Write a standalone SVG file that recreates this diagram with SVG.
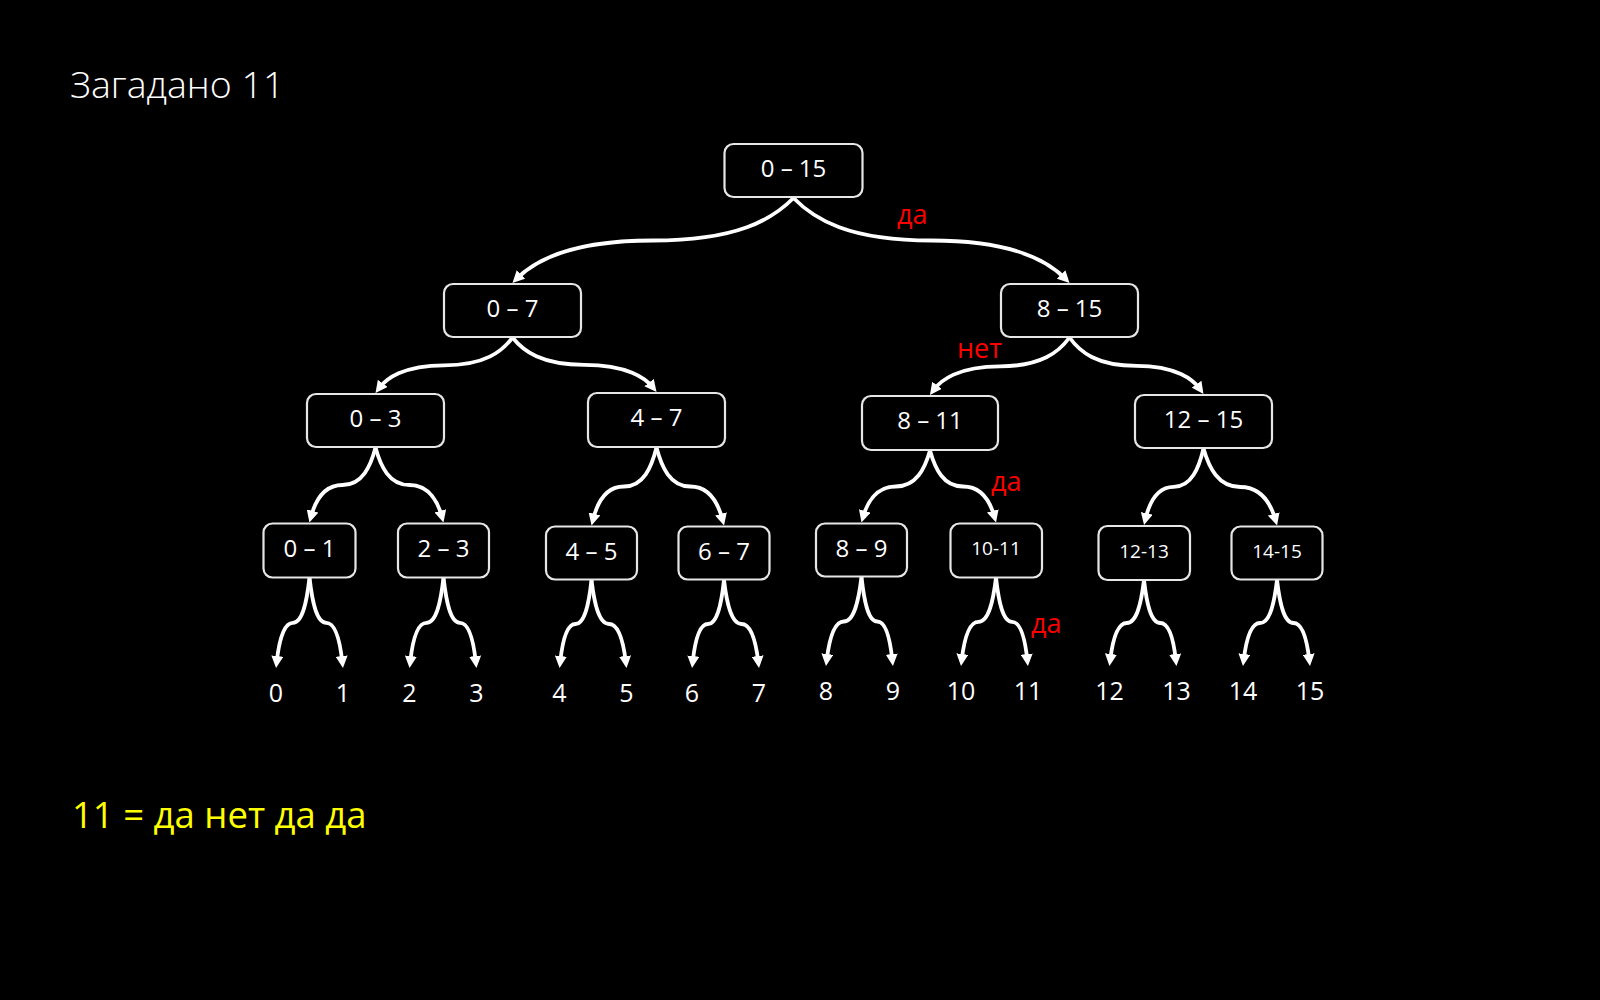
<svg xmlns="http://www.w3.org/2000/svg" width="1600" height="1000" viewBox="0 0 1600 1000">
<defs>
<style>
.box rect{fill:#000;stroke:#e6e6e6;stroke-width:2.2}
.box text{font-family:"Open Sans","Noto Sans",sans-serif;font-size:24px;fill:#fff;text-anchor:middle}
.box text.s{font-size:19px}
#connectors path{fill:none;stroke:#fff;stroke-width:3.8;marker-end:url(#ah)}
.leaf{font-family:"Open Sans","Noto Sans",sans-serif;font-size:25px;fill:#fff;text-anchor:middle}
.red{font-family:"Open Sans","Noto Sans",sans-serif;font-size:27px;fill:#ff0000}
</style>
<marker id="ah" viewBox="0 0 12 12" refX="6" refY="6" markerWidth="12" markerHeight="12" markerUnits="userSpaceOnUse" orient="auto">
<path d="M0,0 L12,6 L0,12 z" fill="#fff"/>
</marker>
</defs>
<rect width="1600" height="1000" fill="#000"/>
<text x="70" y="98" font-family="'Open Sans','Noto Sans',sans-serif" font-weight="300" font-size="37.5" fill="#fff">Загадано 11</text>

<g id="connectors">
<path d="M793.5,198 C772.4,219.3 737.3,240.5 653,240.5 S533.6,261.8 516.7,278.7"/>
<path d="M793.5,198 C814.2,219.3 848.7,240.5 931.5,240.5 S1048.8,261.8 1065.3,278.7"/>
<path d="M512.5,337.5 C502.2,351.4 485.1,365.3 444,365.3 S385.8,379.1 379.1,388.2"/>
<path d="M512.5,337.5 C523.3,351.1 541.3,364.8 584.5,364.8 S645.7,378.4 652.8,387.3"/>
<path d="M1069.5,337.5 C1059,351.9 1041.6,366.3 999.8,366.3 S940.5,380.6 933.5,390.1"/>
<path d="M1069.5,337.5 C1079.6,351.6 1096.3,365.8 1136.5,365.8 S1193.5,379.9 1200,389.1"/>
<path d="M375.5,447.5 C370.6,466.3 362.3,485 342.5,485 S314.5,503.8 311,516.7"/>
<path d="M375.5,447.5 C380.6,466.3 389.1,485 409.5,485 S438.4,503.8 441.9,516.7"/>
<path d="M656.5,447.5 C651.6,467 643.5,486.5 624,486.5 S596.4,506 593,519.7"/>
<path d="M656.5,447.5 C661.6,467 670,486.5 690.3,486.5 S718.9,506 722.5,519.7"/>
<path d="M930,450.5 C924.9,468.5 916.3,486.5 895.8,486.5 S866.6,504.5 863.1,516.7"/>
<path d="M930,450.5 C935,468.5 943.2,486.5 963,486.5 S991,504.5 994.4,516.7"/>
<path d="M1203.5,448.5 C1199,467.6 1191.6,486.8 1173.8,486.8 S1148.5,505.9 1145.4,519.2"/>
<path d="M1203.5,448.5 C1209,467.8 1218.2,487 1240.3,487 S1271.5,506.3 1275.4,519.7"/>
<path d="M309.5,577.5 C307,600.1 302.8,622.8 292.8,622.8 S278.5,645.4 276.7,662"/>
<path d="M309.5,577.5 C312,600.1 316.2,622.8 326.3,622.8 S340.5,645.4 342.3,662"/>
<path d="M443.5,577.5 C441,600.1 436.7,622.8 426.5,622.8 S412,645.4 410.2,662"/>
<path d="M443.5,577.5 C446,600.1 450.1,622.8 460,622.8 S474,645.4 475.8,662"/>
<path d="M591.5,580 C589.1,602 585.1,624 575.5,624 S561.9,646 560.2,662"/>
<path d="M591.5,580 C594.1,602 598.5,624 609,624 S623.9,646 625.8,662"/>
<path d="M724,580 C721.6,602 717.6,624 708,624 S694.4,646 692.7,662"/>
<path d="M724,580 C726.6,602 731,624 741.5,624 S756.4,646 758.3,662"/>
<path d="M861.5,577 C858.8,599.3 854.4,621.5 843.8,621.5 S828.7,643.8 826.7,660"/>
<path d="M861.5,577 C863.9,599.3 867.8,621.5 877.3,621.5 S890.6,643.8 892.3,660"/>
<path d="M996,577.5 C993.4,599.6 989,621.8 978.5,621.8 S963.6,643.9 961.7,660"/>
<path d="M996,577.5 C998.4,599.6 1002.4,621.8 1012,621.8 S1025.6,643.9 1027.3,660"/>
<path d="M1144,580 C1141.4,601.5 1137.1,623 1126.8,623 S1112.1,644.5 1110.2,660"/>
<path d="M1144,580 C1146.4,601.5 1150.5,623 1160.3,623 S1174.1,644.5 1175.8,660"/>
<path d="M1277,580 C1274.5,601.5 1270.2,623 1260,623 S1245.6,644.5 1243.7,660"/>
<path d="M1277,580 C1279.5,601.5 1283.6,623 1293.5,623 S1307.5,644.5 1309.3,660"/>
</g>

<g id="n0-15" class="box"><rect x="724.5" y="144" width="138" height="53" rx="9"/><text x="793.5" y="177">0 – 15</text></g>
<g id="n0-7" class="box"><rect x="444" y="284" width="137" height="53" rx="9"/><text x="512.5" y="317">0 – 7</text></g>
<g id="n8-15" class="box"><rect x="1001" y="284" width="137" height="53" rx="9"/><text x="1069.5" y="317">8 – 15</text></g>
<g id="n0-3" class="box"><rect x="307" y="394" width="137" height="53" rx="9"/><text x="375.5" y="427">0 – 3</text></g>
<g id="n4-7" class="box"><rect x="588" y="393" width="137" height="54" rx="9"/><text x="656.5" y="426">4 – 7</text></g>
<g id="n8-11" class="box"><rect x="862" y="396" width="136" height="54" rx="9"/><text x="930" y="429">8 – 11</text></g>
<g id="n12-15" class="box"><rect x="1135" y="395" width="137" height="53" rx="9"/><text x="1203.5" y="428">12 – 15</text></g>
<g id="n0-1" class="box"><rect x="263.5" y="523.5" width="92" height="54" rx="9"/><text x="309.5" y="556.5">0 – 1</text></g>
<g id="n2-3" class="box"><rect x="398" y="523.5" width="91" height="54" rx="9"/><text x="443.5" y="556.5">2 – 3</text></g>
<g id="n4-5" class="box"><rect x="546" y="526.5" width="91" height="53" rx="9"/><text x="591.5" y="559.5">4 – 5</text></g>
<g id="n6-7" class="box"><rect x="678.5" y="526.5" width="91" height="53" rx="9"/><text x="724" y="559.5">6 – 7</text></g>
<g id="n8-9" class="box"><rect x="816" y="523.5" width="91" height="53" rx="9"/><text x="861.5" y="556.5">8 – 9</text></g>
<g id="n10-11" class="box"><rect x="950.5" y="523.5" width="91.5" height="54" rx="9"/><text class="s" x="996" y="555">10-11</text></g>
<g id="n12-13" class="box"><rect x="1098.5" y="526" width="91.5" height="54" rx="9"/><text class="s" x="1144" y="557.5">12-13</text></g>
<g id="n14-15" class="box"><rect x="1231.5" y="526.5" width="91" height="53" rx="9"/><text class="s" x="1277" y="558">14-15</text></g>

<g id="leaves">
<text class="leaf" x="276" y="702">0</text>
<text class="leaf" x="343" y="702">1</text>
<text class="leaf" x="409.5" y="702">2</text>
<text class="leaf" x="476.5" y="702">3</text>
<text class="leaf" x="559.5" y="702">4</text>
<text class="leaf" x="626.5" y="702">5</text>
<text class="leaf" x="692" y="702">6</text>
<text class="leaf" x="759" y="702">7</text>
<text class="leaf" x="826" y="700">8</text>
<text class="leaf" x="893" y="700">9</text>
<text class="leaf" x="961" y="700">10</text>
<text class="leaf" x="1028" y="700">11</text>
<text class="leaf" x="1109.5" y="700">12</text>
<text class="leaf" x="1176.5" y="700">13</text>
<text class="leaf" x="1243" y="700">14</text>
<text class="leaf" x="1310" y="700">15</text>
</g>

<g id="answers">
<text class="red" x="897" y="224">да</text>
<text class="red" x="957" y="358">нет</text>
<text class="red" x="991" y="491">да</text>
<text class="red" x="1031" y="633">да</text>
</g>

<text x="72" y="828" font-family="'Open Sans','Noto Sans',sans-serif" font-size="36.5" fill="#ffff00">11 = да нет да да</text>
</svg>
